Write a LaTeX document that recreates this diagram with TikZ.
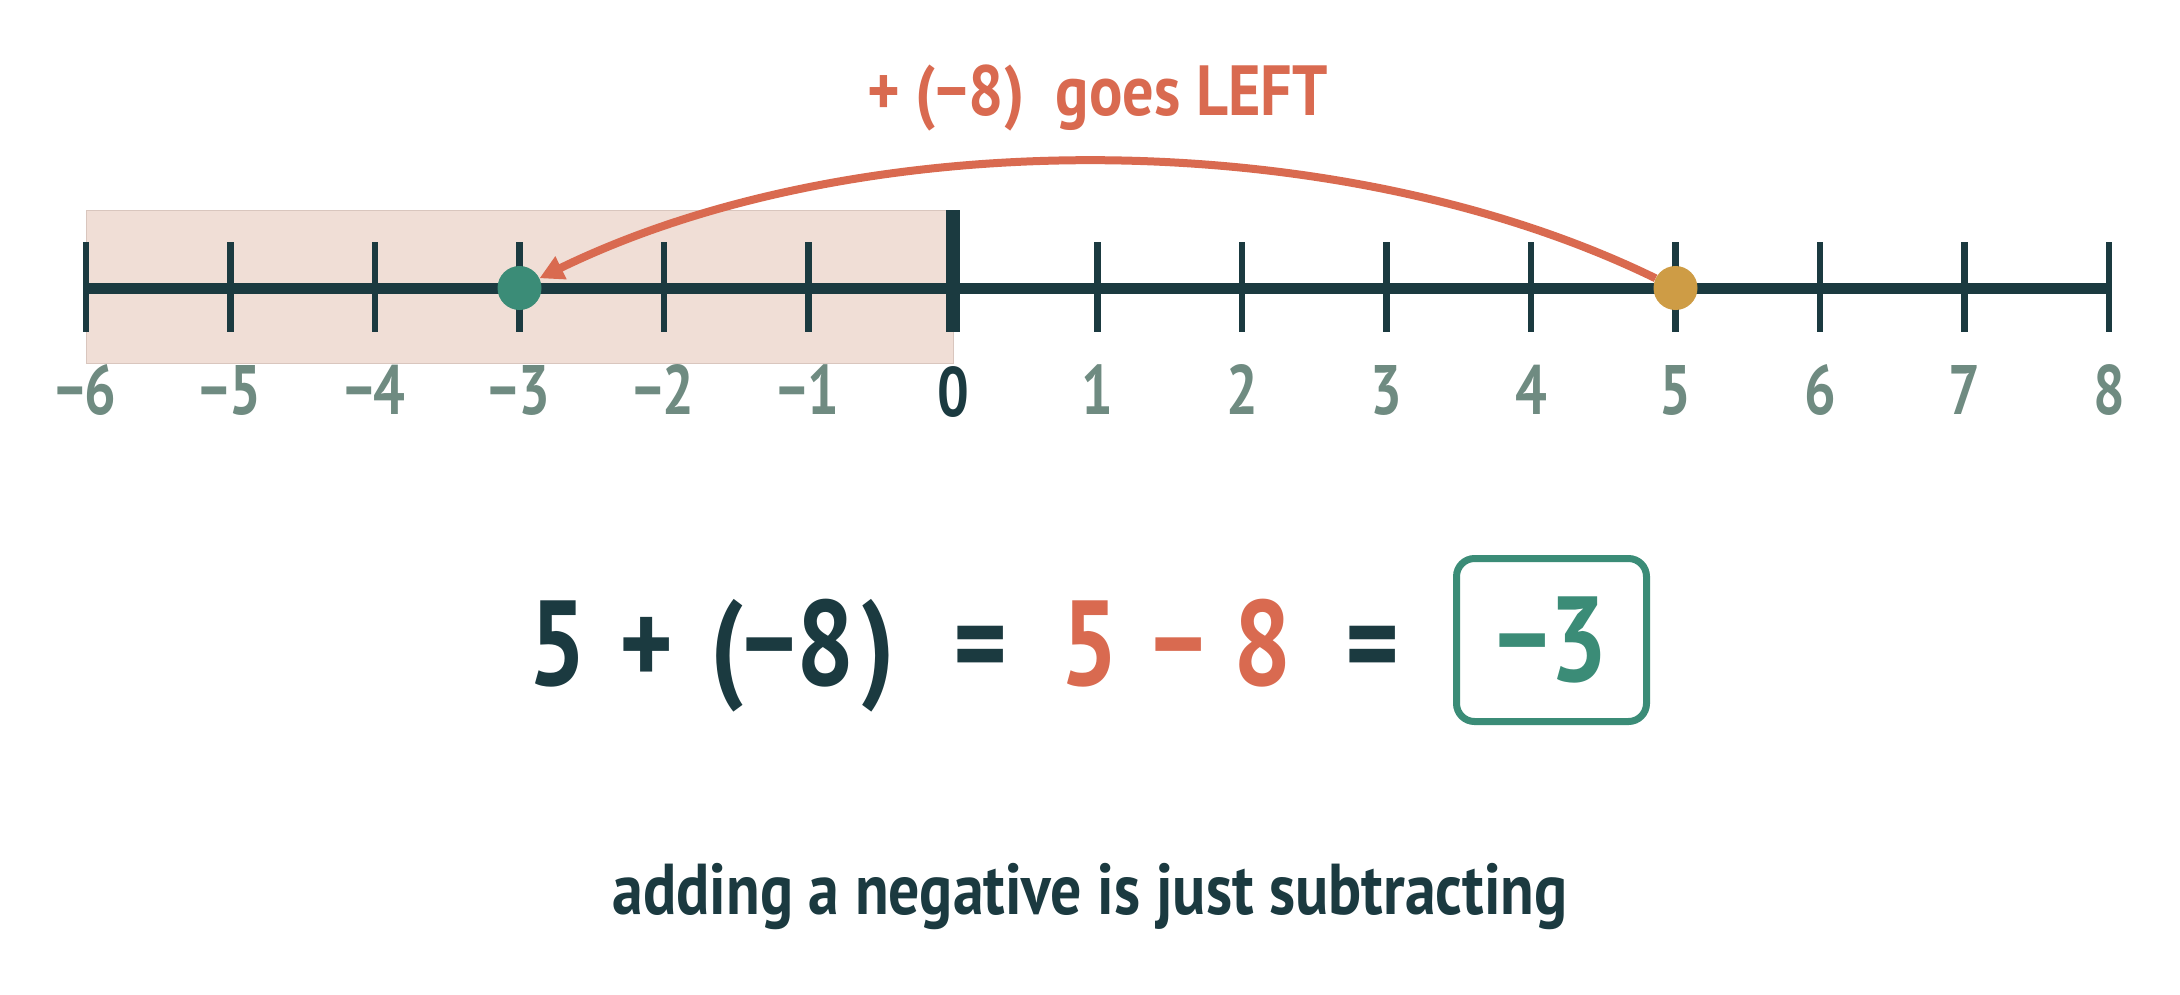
\documentclass[tikz,border=0pt]{standalone}
\usepackage{fontspec}
\setmainfont{PT Sans}
\usetikzlibrary{arrows.meta}
\definecolor{navy}{HTML}{1B3A40}
\definecolor{sage}{HTML}{6F8B81}
\definecolor{coral}{HTML}{D96A50}
\definecolor{teal}{HTML}{3B8C77}
\definecolor{gold}{HTML}{CE9C45}
\definecolor{blush}{HTML}{F0DED6}
\definecolor{blushline}{HTML}{D9C6BE}
\newcommand{\hsq}[1]{\scalebox{0.8}[1]{#1}}
\newcommand{\hsqeq}[1]{\scalebox{0.85}[1]{#1}}
\tikzset{
  ticklbl/.style={anchor=base,inner sep=0pt,font=\bfseries\fontsize{70}{84}\selectfont,text=sage},
  eqpart/.style={anchor=base,inner sep=0pt,font=\bfseries\fontsize{121}{140}\selectfont,text=navy},
  dot/.style={circle,inner sep=0pt,minimum size=44pt},
  tickline/.style={navy,line width=6.4pt},
}
\begin{document}
\begin{tikzpicture}[x=1pt,y=-1pt]
\useasboundingbox (0,0) rectangle (2180,994);
\fill[white] (0,0) rectangle (2180,994);
% shaded negative region
\filldraw[fill=blush,draw=blushline,line width=1pt] (86,210) rectangle (953,363);
% number line
\draw[navy,line width=11pt] (83,288) -- (2112,288);
\foreach \i in {-6,...,8}{
  \pgfmathsetmacro{\xx}{953+144.5*\i}
  \ifnum\i=0\relax
    \draw[navy,line width=14pt] (\xx,210) -- (\xx,332);
  \else
    \draw[tickline] (\xx,242) -- (\xx,332);
  \fi
}
\foreach \i/\t in {-6/−6,-5/−5,-4/−4,-3/−3,-2/−2,-1/−1,1/1,2/2,3/3,4/4,5/5,6/6,7/7,8/8}{
  \pgfmathsetmacro{\xx}{953+144.5*\i}
  \node[ticklbl] (lbl\i) at (\xx,414) {\hsq{\t}};
}
\node[ticklbl,text=navy] (lbl0) at (953,416) {\hsq{0}};
% dots
\node[dot,fill=teal] (green) at (519.5,288) {};
\node[dot,fill=gold] (goldd) at (1675.5,288) {};
% jump arc
\draw[coral,line width=8pt,-{Triangle[length=24pt,width=24pt]}] (goldd) .. controls (1337,123) and (860,122) .. (green);
\node[anchor=base,inner sep=0pt,text=coral,font=\bfseries\fontsize{71}{84}\selectfont] (jumplbl) at (1097.5,115) {\resizebox{461pt}{\height}{+ (−8)\ \ goes LEFT}};
% equation
\node[eqpart] (e1) at (558,685) {\hsqeq{5}};
\node[eqpart] (e2) at (647,685) {\hsqeq{+}};
\node[eqpart] (e3) at (727,685) {\hsqeq{(}};
\node[eqpart] (e4) at (799,685) {\hsqeq{−8}};
\node[eqpart] (e5) at (878,685) {\hsqeq{)}};
\node[eqpart] (e6) at (981,685) {\hsqeq{=}};
\node[eqpart,text=coral] (e7) at (1090,685) {\hsqeq{5}};
\node[eqpart,text=coral] (e8) at (1179,685) {\hsqeq{−}};
\node[eqpart,text=coral] (e9) at (1263,685) {\hsqeq{8}};
\node[eqpart] (e10) at (1373,685) {\hsqeq{=}};
\node[draw=teal,line width=7pt,rounded corners=18pt,minimum width=190pt,minimum height=163pt,inner sep=0pt,text=teal,font=\bfseries\fontsize{121}{140}\selectfont] (answer) at (1551.5,640) {\hsqeq{−3}};
% caption
\node[anchor=base,inner sep=0pt,text=navy,font=\bfseries\fontsize{72}{86}\selectfont] (caption) at (1090,914) {\resizebox{955pt}{\height}{adding a negative is just subtracting}};
\end{tikzpicture}
\end{document}
